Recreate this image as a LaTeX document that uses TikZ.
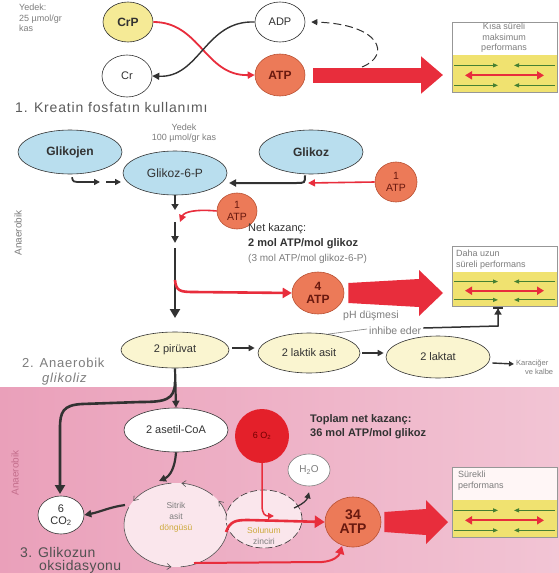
\documentclass[tikz,border=0pt]{standalone}
\usepackage{fontspec}
\setmainfont{Liberation Sans}
\usetikzlibrary{shapes.geometric,arrows.meta,calc}
\definecolor{lblue}{RGB}{185,222,238}
\definecolor{crpy}{RGB}{245,234,150}
\definecolor{pyel}{RGB}{250,245,208}
\definecolor{atpf}{RGB}{236,122,88}
\definecolor{atpd}{RGB}{185,80,50}
\definecolor{atpt}{RGB}{105,25,15}
\definecolor{redc}{RGB}{232,45,60}
\definecolor{o2f}{RGB}{228,32,42}
\definecolor{band}{RGB}{240,226,112}
\definecolor{grn}{RGB}{70,128,50}
\definecolor{dk}{RGB}{50,50,50}
\definecolor{gr}{RGB}{125,125,125}
\definecolor{pinkL}{RGB}{234,160,186}
\definecolor{pinkR}{RGB}{242,196,212}
\definecolor{cyc}{RGB}{250,230,236}
\definecolor{pinktxt}{RGB}{196,110,140}
\definecolor{yeltxt}{RGB}{205,170,60}
\newcommand{\fs}[2]{\fontsize{#1}{#2}\selectfont}
\newcommand{\wide}{\addfontfeature{LetterSpace=6}}
% muscle box: #1 name, #2 x0, #3 ytop, #4 ysplit, #5 ybot, #6 top fill
\newcommand{\musclebox}[6]{%
  \fill[#6] (#2,#3) rectangle ({#2+105},#4);
  \fill[band] (#2,#4) rectangle ({#2+105},#5);
  \node[draw=gr!80, line width=0.5pt, minimum width=105pt, minimum height={(#5-#3)*1pt}, inner sep=0pt, anchor=north west] (#1) at (#2,#3) {};
  \draw[grn, line width=0.9pt, -{Triangle[length=5pt,width=4pt]}] ({#2+2},{#4+0.28*(#5-#4)}) -- ({#2+46},{#4+0.28*(#5-#4)});
  \draw[grn, line width=0.9pt, -{Triangle[length=5pt,width=4pt]}] ({#2+103},{#4+0.28*(#5-#4)}) -- ({#2+62},{#4+0.28*(#5-#4)});
  \draw[grn, line width=0.9pt, -{Triangle[length=5pt,width=4pt]}] ({#2+2},{#4+0.82*(#5-#4)}) -- ({#2+46},{#4+0.82*(#5-#4)});
  \draw[grn, line width=0.9pt, -{Triangle[length=5pt,width=4pt]}] ({#2+103},{#4+0.82*(#5-#4)}) -- ({#2+62},{#4+0.82*(#5-#4)});
  \draw[redc, line width=1.8pt, {Triangle[length=7pt,width=8pt]}-{Triangle[length=7pt,width=8pt]}] ({#2+13},{#4+0.55*(#5-#4)}) -- ({#2+92},{#4+0.55*(#5-#4)});
}
\begin{document}
\begin{tikzpicture}[x=1pt,y=-1pt,
  ell/.style={ellipse, draw=dk, line width=0.6pt, inner sep=0pt, align=center},
  bluenode/.style={ell, fill=lblue, minimum width=104pt, minimum height=44pt, font=\fs{12}{14}, text=dk},
  atpnode/.style={ellipse, draw=atpd, fill=atpf, line width=0.6pt, inner sep=0pt, align=center, text=atpt},
  yelnode/.style={ell, fill=pyel, font=\fs{11}{13}, text=dk},
  whnode/.style={ell, fill=white, font=\fs{11}{13}, text=dk},
  darr/.style={draw=dk, line width=2pt, -{Triangle[length=7pt,width=7pt]}},
  rarr/.style={draw=redc, line width=2pt, -{Triangle[length=7pt,width=7pt]}},
  gtxt/.style={text=gr, font=\fs{9}{10.5}, inner sep=0pt},
  lbl/.style={inner sep=0pt, anchor=west},
]
\useasboundingbox (0,0) rectangle (559,573);
\fill[white] (0,0) rectangle (559,573);
% ---------- pink region ----------
\shade[left color=pinkL, right color=pinkR] (0,387) rectangle (559,573);

% ---------- section 1 ----------
\node[gtxt, anchor=north west, align=left] (yed1) at (19,4) {Yedek:\\25 µmol/gr\\kas};
\node[ell, fill=crpy, minimum width=50pt, minimum height=40pt, font=\bfseries\fs{12}{14}, text=dk] (crp) at (128,22) {CrP};
\node[whnode, minimum width=50pt, minimum height=42pt] (cr) at (127,76) {Cr};
\node[whnode, minimum width=50pt, minimum height=40pt] (adp) at (280,22) {ADP};
\node[atpnode, minimum width=50pt, minimum height=42pt, font=\bfseries\fs{12}{14}] (atp) at (280,75) {ATP};
\draw[rarr, line width=1.8pt] (crp.east) .. controls (200,22) and (205,76) .. (atp.west);
\draw[darr, line width=1.4pt] (adp.west) .. controls (205,20) and (200,78) .. (cr.east);
\coordinate (dstart) at (362,67);
\draw[dk, line width=1pt, dash pattern=on 8pt off 4pt, -{Triangle[length=6pt,width=6pt]}] (dstart) .. controls (392,55) and (380,24) .. ($(adp.east)+(6,0)$);
\coordinate (b1s) at ($(atp.east)+(8,0)$);
\coordinate (b1e) at (443,75);
\draw[redc, line width=15pt, -{Triangle[length=22pt,width=36pt]}] (b1s) -- (b1e);
\musclebox{box1}{452}{22}{55}{92}{white}
\node[gtxt, align=center] (t1) at (504,38) {Kısa süreli\\maksimum\\performans};
\node[lbl, text=dk!80, font=\fs{14}{16}\wide] (sec1) at (15,107) {1. Kreatin fosfatın kullanımı};

% ---------- section 2 ----------
\node[gtxt, align=center] (yed2) at (184,133) {Yedek\\100 µmol/gr kas};
\node[bluenode, font=\bfseries\fs{12}{14}] (gkj) at (70,152) {Glikojen};
\node[bluenode] (g6p) at (175,173) {Glikoz-6-P};
\node[bluenode, font=\bfseries\fs{12}{14}] (glz) at (311,152) {Glikoz};
\node[atpnode, minimum width=42pt, minimum height=40pt, font=\fs{10.5}{11.5}] (atpr) at (396,182) {1\\ATP};
\node[atpnode, minimum width=40pt, minimum height=36pt, font=\fs{10.5}{11.5}] (atpb) at (237,211) {1\\ATP};
% Glikojen -> Glikoz-6-P
\coordinate (gk1) at (100,182);
\coordinate (gk2) at (106,182);
\coordinate (gk3) at (121,182);
\draw[darr, line width=1.8pt, -{Triangle[length=6pt,width=6pt]}] ($(gkj.south)+(2,3)$) .. controls (73,182) .. (82,182) -- (gk1);
\draw[darr, line width=1.8pt, -{Triangle[length=6pt,width=6pt]}] (gk2) -- (gk3);
% Glikoz -> Glikoz-6-P
\coordinate (gz1) at (229,183);
\draw[darr] ($(glz.south)+(-6,1)$) .. controls (305,183) .. (296,183) -- (gz1);
\coordinate (gzr) at (308,183);
\draw[rarr, line width=1.6pt] (atpr.west) -- (gzr);
% vertical chain
\coordinate (v1) at (175,210);
\coordinate (v2a) at (175,222);
\coordinate (v2b) at (175,243);
\coordinate (v3a) at (175,248);
\coordinate (v3b) at (175,318);
\draw[darr, -{Triangle[length=6pt,width=7pt]}] (g6p.south) -- (v1);
\coordinate (rb) at (180,222);
\draw[rarr, line width=1.6pt] (atpb.west) .. controls (195,209) and (184,212) .. (rb);
\draw[darr] (v2a) -- (v2b);
\draw[darr, line width=2.2pt, -{Triangle[length=9pt,width=10pt]}] (v3a) -- (v3b);
% red branch to 4 ATP
\node[atpnode, minimum width=52pt, minimum height=42pt, font=\bfseries\fs{12}{13}] (atp4) at (318,293) {4\\ATP};
\coordinate (rbr) at (175,280);
\draw[rarr, line width=2.6pt, -{Triangle[length=9pt,width=10pt]}] (rbr) .. controls (176,291) and (180,292) .. (194,292) -- (atp4.west);
% net text
\node[lbl, text=dk, font=\fs{11}{13}] (nk1) at (248,229) {Net kazanç:};
\node[lbl, text=dk, font=\bfseries\fs{11}{13}] (nk2) at (248,244) {2 mol ATP/mol glikoz};
\node[lbl, text=gr, font=\fs{10}{12}] (nk3) at (248,259) {(3 mol ATP/mol glikoz-6-P)};
% big wedge 2
\coordinate (w2s) at ($(atp4.east)+(4,0)$);
\coordinate (w2e) at (443,293);
\fill[redc] ($(w2s)+(0,-10)$) -- ($(w2e)+(-24,-14)$) -- ($(w2e)+(-24,-23)$) -- (w2e) -- ($(w2e)+(-24,23)$) -- ($(w2e)+(-24,14)$) -- ($(w2s)+(0,10)$) -- cycle;
\musclebox{box2}{452}{246}{272}{306}{white}
\node[gtxt, anchor=north west, align=left] (t2) at (456,250) {Daha uzun\\süreli performans};
% pyruvate row
\node[yelnode, minimum width=108pt, minimum height=36pt] (pir) at (175,350) {2 pirüvat};
\node[yelnode, minimum width=102pt, minimum height=40pt] (lak) at (309,353) {2 laktik asit};
\node[yelnode, minimum width=104pt, minimum height=42pt] (lkt) at (438,357) {2 laktat};
\draw[darr, line width=1.6pt, -{Triangle[length=6pt,width=6pt]}] ($(pir.east)+(3,-2)$) -- ($(lak.west)+(-3,-5)$);
\draw[darr, line width=1.6pt, -{Triangle[length=6pt,width=6pt]}] ($(lak.east)+(2,0)$) -- ($(lkt.west)+(-2,-4)$);
\coordinate (kar) at (514,364);
\draw[darr, line width=1.4pt, -{Triangle[length=5pt,width=5pt]}] ($(lkt.east)+(2,6)$) -- (kar);
\node[gtxt, anchor=west, align=left, font=\fs{7.5}{9}] (kartxt) at (516,367) {Karaciğer\\\hspace*{9pt}ve kalbe};
\node[lbl, text=gr, font=\fs{10.5}{12}] (ph) at (343,316) {pH düşmesi};
\node[lbl, text=gr, font=\fs{10.5}{12}] (ie) at (369,331) {inhibe eder};
\draw[gr, line width=0.6pt] (lak.45) -- ($(ie.west)+(-2,-2)$);
\coordinate (inh1) at (498,326);
\coordinate (inh2) at (498,307);
\draw[dk, line width=1.5pt, -{Triangle[length=6pt,width=7pt]Bar[width=10pt,line width=1.5pt]}] ($(ie.east)+(2,-3)$) -- (inh1) -- (inh2);
\node[lbl, text=gr, font=\fs{13}{15}\wide] (sec2a) at (22,363) {2. Anaerobik};
\node[lbl, text=gr, font=\itshape\fs{13}{15}\wide] (sec2b) at (42,379) {glikoliz};
\node[text=gr, font=\fs{10}{12}, rotate=90, inner sep=0pt] (an1) at (18,233) {Anaerobik};

% ---------- section 3 ----------
\node[whnode, minimum width=104pt, minimum height=44pt] (ase) at (176,430) {2 asetil-CoA};
\draw[darr, line width=2.2pt] (pir.south) -- (ase.north);
\coordinate (brc) at (175,382);
\draw[darr, line width=2.6pt, -{Triangle[length=9pt,width=10pt]}] (brc) .. controls (175,400) and (165,402) .. (140,402) -- (82,404) .. controls (63,405) and (60,412) .. (60,428) -- ($(0,0)+(60,494)$);
\node[circle, fill=o2f, minimum size=54pt, inner sep=0pt, font=\fs{9}{10}, text=red!45!black] (o2) at (262,436) {6 O\textsubscript{2}};
\node[lbl, text=dk, font=\bfseries\fs{11}{13}] (tn1) at (310,420) {Toplam net kazanç:};
\node[lbl, text=dk, font=\bfseries\fs{11}{13}] (tn2) at (310,434) {36 mol ATP/mol glikoz};
\node[whnode, minimum width=42pt, minimum height=32pt, draw=gr, font=\fs{10}{12}, text=gr] (h2o) at (309,470) {H\textsubscript{2}O};
% citric acid cycle
\node[ellipse, fill=cyc, minimum width=104pt, minimum height=84pt, inner sep=0pt] (cyc) at (176,525) {};
\foreach \a/\b in {-45/-84, -95/-145, 205/95, 85/-35}
  \draw[dk!85, line width=0.6pt, -{Straight Barb[length=4pt,width=6pt]}] ($(cyc.center)+(\a:52 and 42)$) arc[start angle=\a, end angle=\b, x radius=52, y radius=42];
\node[gtxt, align=center, font=\fs{8.5}{11}] (cyctxt) at (176,517) {Sitrik\\asit\\\textcolor{yeltxt}{döngüsü}};
% respiratory chain
\node[ellipse, draw=dk, dash pattern=on 7pt off 3pt, line width=0.6pt, fill=cyc, minimum width=76pt, minimum height=58pt, inner sep=0pt] (sol) at (264,519) {};
\node[gtxt, align=center, font=\fs{8.5}{11}] (soltxt) at (264,536) {\textcolor{yeltxt}{Solunum}\\zinciri};
\node[ell, fill=white, minimum width=46pt, minimum height=38pt, font=\fs{11}{12}, text=dk] (co2) at (61,515) {6\\CO\textsubscript{2}};
\node[atpnode, minimum width=56pt, minimum height=50pt, font=\bfseries\fs{14}{14}] (atp34) at (353,522) {34\\ATP};
% arrows section 3
\coordinate (cyin) at (159,481);
\draw[darr, line width=2.2pt] (ase.south) .. controls (175,468) and (170,476) .. (cyin);
\coordinate (cyout) at (125,505);
\draw[darr, line width=2.2pt] (cyout) .. controls (110,507) and (100,512) .. (co2.east);
\coordinate (o2in) at (274,516);
\draw[rarr, line width=1.5pt, -{Triangle[length=6pt,width=6pt]}] (o2.south) -- (262,505) .. controls (262,514) and (265,516) .. (o2in);
\coordinate (rst) at (226,532);
\draw[rarr, line width=2.6pt, -{Triangle[length=10pt,width=12pt]}] (rst) .. controls (230,521) and (236,520) .. (248,520) -- (atp34.west);
\coordinate (h2st) at (294,508);
\draw[darr, line width=1.3pt, -{Triangle[length=6pt,width=6pt]}] (h2st) .. controls (303,504) and (307,500) .. ($(h2o.south)+(0,6)$);
\coordinate (rbs) at (194,563);
\coordinate (rbe) at (342,546);
\draw[rarr, line width=2pt, -{Triangle[length=8pt,width=9pt]}] (rbs) -- (322,562) .. controls (334,561) and (339,556) .. (rbe);
% wedge 3
\coordinate (w3s) at ($(atp34.east)+(3,0)$);
\coordinate (w3e) at (448,522);
\fill[redc] ($(w3s)+(0,-10)$) -- ($(w3e)+(-22,-13)$) -- ($(w3e)+(-22,-22)$) -- (w3e) -- ($(w3e)+(-22,22)$) -- ($(w3e)+(-22,13)$) -- ($(w3s)+(0,10)$) -- cycle;
\musclebox{box3}{452}{467}{500}{537}{white!85!pink}
\node[gtxt, anchor=north west, align=left] (t3) at (458,471) {Sürekli\\performans};
\node[lbl, text=dk!85, font=\fs{14}{16}\addfontfeature{LetterSpace=3}] (sec3a) at (20,552) {3. Glikozun};
\node[lbl, text=dk!85, font=\fs{14}{16}\addfontfeature{LetterSpace=3}] (sec3b) at (39,567) {oksidasyonu};
\node[text=pinktxt, font=\fs{10}{12}, rotate=90, inner sep=0pt] (an2) at (15,473) {Anaerobik};
\end{tikzpicture}
\end{document}
